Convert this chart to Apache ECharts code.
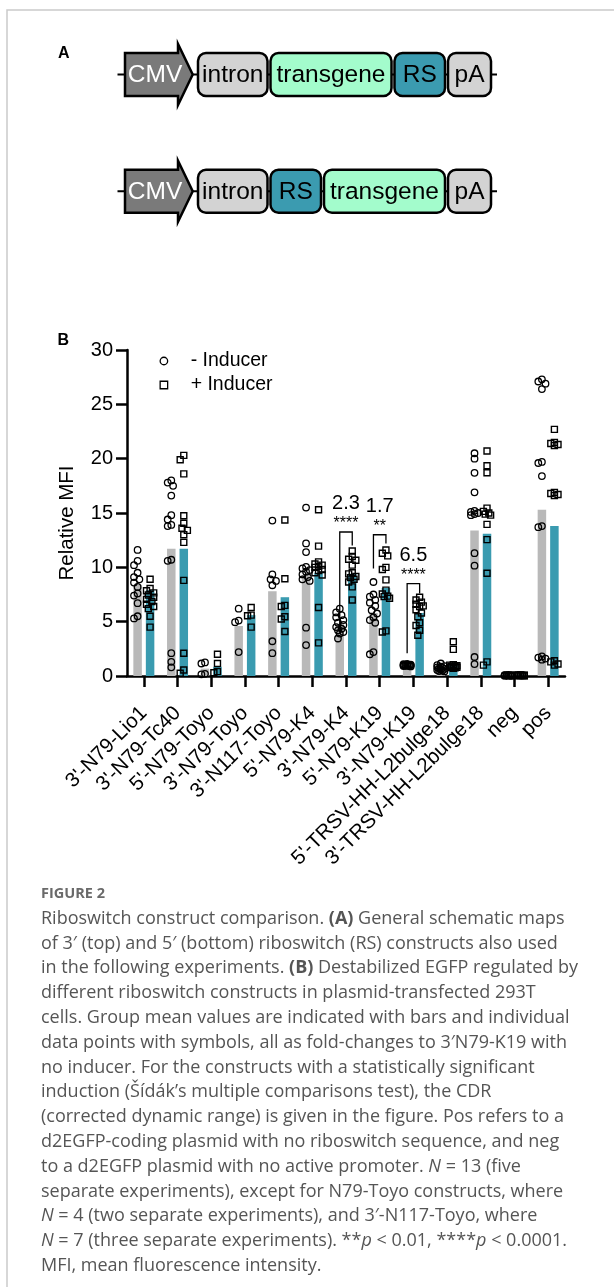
<!DOCTYPE html>
<html>
<head>
<meta charset="utf-8">
<script src="https://cdn.jsdelivr.net/npm/echarts@6/dist/echarts.min.js"></script>
<style>
  html, body { margin: 0; padding: 0; background: #fff; }
  #chart { width: 614px; height: 1287px; }
</style>
</head>
<body>
<div id="chart"></div>
<script>
// ---- data -------------------------------------------------------------
const categories = [
  "3'-N79-Lio1", "3'-N79-Tc40", "5'-N79-Toyo", "3'-N79-Toyo", "3'-N117-Toyo",
  "5'-N79-K4", "3'-N79-K4", "5'-N79-K19", "3'-N79-K19",
  "5'-TRSV-HH-L2bulge18", "3'-TRSV-HH-L2bulge18", "neg", "pos"
];

// group means (bars)
const meanMinus = [8.4, 11.7, 0.68, 4.6, 7.8, 9.3, 4.8, 5.8, 1.0, 0.7, 13.4, 0.05, 15.3];
const meanPlus  = [7.9, 11.7, 0.85, 5.6, 7.25, 9.5, 9.4, 8.1, 5.8, 1.0, 13.1, 0.05, 13.8];

// individual replicates, no inducer
const pointsMinus = [
  [11.6, 10.6, 10.2, 9.5, 9.1, 8.9, 8.6, 8.2, 7.6, 7.4, 6.7, 5.5, 5.3],
  [18.0, 17.8, 17.5, 16.6, 14.8, 14.4, 13.9, 13.8, 10.7, 10.6, 2.1, 1.3, 0.8],
  [1.25, 1.15, 0.2, 0.15],
  [6.2, 5.1, 4.95, 2.2],
  [14.3, 9.35, 8.9, 8.75, 8.35, 3.2, 2.1],
  [15.5, 12.2, 11.4, 10.05, 9.9, 9.75, 9.6, 9.35, 9.1, 8.9, 8.75, 4.45, 2.85],
  [6.2, 5.85, 5.6, 5.4, 5.15, 4.9, 4.7, 4.5, 4.35, 4.2, 4.05, 3.9, 3.45],
  [8.65, 7.5, 7.3, 7.0, 6.75, 6.45, 6.05, 5.75, 5.4, 5.15, 4.9, 2.2, 2.0],
  [1.12, 1.08, 1.05, 1.03, 1.01, 1.0, 0.99, 0.98, 0.97, 0.95, 0.93, 0.92, 0.88],
  [1.15, 1.0, 0.9, 0.85, 0.8, 0.75, 0.7, 0.65, 0.6, 0.55, 0.5, 0.45, 0.42],
  [20.5, 20.0, 18.7, 16.9, 15.2, 15.1, 15.0, 14.9, 14.8, 11.3, 10.15, 1.75, 1.1],
  [0.09, 0.08, 0.07, 0.06, 0.06, 0.05, 0.05, 0.05, 0.04, 0.04, 0.03, 0.03, 0.02],
  [27.3, 27.1, 26.9, 26.4, 19.7, 19.6, 18.4, 13.8, 13.7, 1.8, 1.7, 1.6, 1.5]
];

// individual replicates, with inducer
const pointsPlus = [
  [8.9, 8.05, 7.85, 7.65, 7.45, 7.25, 7.05, 6.85, 6.6, 6.4, 6.2, 5.5, 4.5],
  [20.3, 19.9, 18.6, 14.75, 14.05, 13.6, 13.4, 13.0, 12.3, 8.8, 2.1, 0.55, 0.25],
  [2.0, 1.15, 0.4, 0.3],
  [6.3, 5.6, 5.55, 4.5],
  [14.35, 8.95, 6.5, 6.4, 5.45, 5.25, 4.1],
  [15.3, 11.95, 10.5, 10.3, 10.2, 10.1, 10.0, 9.8, 9.7, 9.5, 9.3, 6.3, 3.05],
  [11.5, 11.0, 10.75, 10.65, 10.2, 9.5, 9.4, 9.15, 9.05, 8.9, 8.65, 8.2, 7.0],
  [11.6, 11.3, 11.05, 10.0, 9.8, 8.85, 7.9, 7.55, 7.35, 7.3, 7.15, 4.15, 4.05],
  [7.25, 7.0, 6.8, 6.6, 6.45, 6.4, 6.1, 5.8, 5.45, 4.9, 4.65, 4.2, 3.75],
  [3.15, 2.45, 1.05, 1.0, 0.95, 0.9, 0.88, 0.85, 0.82, 0.8, 0.78, 0.75, 0.7],
  [20.7, 19.35, 18.7, 15.45, 15.15, 15.0, 14.9, 14.8, 13.95, 12.55, 9.45, 1.3, 1.0],
  [0.1, 0.09, 0.08, 0.07, 0.06, 0.06, 0.05, 0.05, 0.04, 0.04, 0.03, 0.03, 0.02],
  [22.7, 21.5, 21.4, 21.3, 21.2, 16.9, 16.8, 16.7, 16.6, 1.4, 1.3, 1.1, 1.0]
];

// significant inductions: category index, CDR, stars, bracket levels
const cdrCategory = [6, 7, 8];
const cdrText = ['2.3', '1.7', '6.5'];
const cdrStars = ['****', '**', '****'];
const bracketTop = [13.25, 13.0, 8.5];
const bracketLeftEnd = [4.0, 9.9, 2.1];
const bracketRightEnd = [12.0, 12.2, 7.6];

const legendNames = ['- Inducer', '+ Inducer'];
const yAxisTitle = 'Relative MFI';

// construct maps (panel A)
const mapTop = ['CMV', 'intron', 'transgene', 'RS', 'pA'];
const mapBottom = ['CMV', 'intron', 'RS', 'transgene', 'pA'];

const captionHead = 'FIGURE 2';
const captionLines = [
  'Riboswitch construct comparison. {b|(A)} General schematic maps',
  'of 3\u2032 (top) and 5\u2032 (bottom) riboswitch (RS) constructs also used',
  'in the following experiments. {b|(B)} Destabilized EGFP regulated by',
  'different riboswitch constructs in plasmid-transfected 293T',
  'cells. Group mean values are indicated with bars and individual',
  'data points with symbols, all as fold-changes to 3\u2032N79-K19 with',
  'no inducer. For the constructs with a statistically significant',
  'induction (\u0160\u00edd\u00e1k\u2019s multiple comparisons test), the CDR',
  '(corrected dynamic range) is given in the figure. Pos refers to a',
  'd2EGFP-coding plasmid with no riboswitch sequence, and neg',
  'to a d2EGFP plasmid with no active promoter. {i|N} = 13 (five',
  'separate experiments), except for N79-Toyo constructs, where',
  '{i|N} = 4 (two separate experiments), and 3\u2032-N117-Toyo, where',
  '{i|N} = 7 (three separate experiments). **{i|p} < 0.01, ****{i|p} < 0.0001.',
  'MFI, mean fluorescence intensity.'
];

// ---- styling ----------------------------------------------------------
const FONT = '"Liberation Sans", Arial, Helvetica, sans-serif';
const CAP_FONT = '"Open Sans", Lato, sans-serif';
const CAP_SIZE = 18;
const GRAY = '#b9b9b9';
const TEAL = '#3a9bb0';
const BAR_W = 8.5;
const BAR_GAP = 0.47;
const PAIR_OFFSET = BAR_W * (1 + BAR_GAP) / 2;
const AXIS_W = 2.5;

const chart = echarts.init(document.getElementById('chart'), null, { renderer: 'canvas' });

// ---- panel A: construct maps -------------------------------------------
const partWidth = { intron: 69.5, transgene: 121, RS: 50.5, pA: 43 };
const partFill = { intron: '#d3d3d3', transgene: '#a3fccc', RS: '#3b9bb0', pA: '#d3d3d3' };

function buildMap(names, yc) {
  const els = [];
  els.push({ type: 'line', shape: { x1: 117.5, y1: yc, x2: 497, y2: yc },
             style: { stroke: '#000', lineWidth: 2 } });
  // promoter arrow
  els.push({
    type: 'polygon',
    shape: { points: [[125, yc - 21.5], [178, yc - 21.5], [178, yc - 30.5], [192.7, yc],
                      [178, yc + 30.5], [178, yc + 21.5], [125, yc + 21.5]] },
    style: { fill: '#7a7a7a', stroke: '#000', lineWidth: 2.5, lineJoin: 'miter' }
  });
  els.push({ type: 'text', x: 155, y: yc + 1,
             style: { text: names[0], fontFamily: FONT, fontSize: 24.5, fill: '#fff',
                      align: 'center', verticalAlign: 'middle' } });
  let x = 198;
  names.slice(1).forEach(n => {
    const w = partWidth[n];
    els.push({ type: 'rect', shape: { x: x, y: yc - 21.5, width: w, height: 43, r: 8 },
               style: { fill: partFill[n], stroke: '#000', lineWidth: 2.5 } });
    els.push({ type: 'text', x: x + w / 2, y: yc + 1,
               style: { text: n, fontFamily: FONT, fontSize: 24.5, fill: '#000',
                        align: 'center', verticalAlign: 'middle' } });
    x += w + 3;
  });
  return els;
}

const captionRich = {
  b: { fontFamily: CAP_FONT, fontSize: CAP_SIZE, fontWeight: 'bold', fill: '#555' },
  i: { fontFamily: CAP_FONT, fontSize: CAP_SIZE, fontStyle: 'italic', fill: '#555' }
};

const graphics = [
  { type: 'rect', shape: { x: 7, y: 10, width: 800, height: 1500 },
    style: { fill: 'none', stroke: '#cacaca', lineWidth: 1.5 }, z: -1 },
  { type: 'text', x: 58, y: 46, style: { text: 'A', fontFamily: FONT, fontSize: 16,
    fontWeight: 'bold', fill: '#000' } },
  { type: 'text', x: 57.5, y: 333, style: { text: 'B', fontFamily: FONT, fontSize: 16,
    fontWeight: 'bold', fill: '#000' } },
  ...buildMap(mapTop, 74.5),
  ...buildMap(mapBottom, 191.3),
  { type: 'text', x: 41, y: 894, style: { text: captionHead, fontFamily: CAP_FONT,
    fontSize: 14.5, fontWeight: 'bold', fill: '#6a6a6a', verticalAlign: 'middle' } }
];
captionLines.forEach((line, k) => {
  graphics.push({ type: 'text', x: 41, y: 918.6 + k * 24.8,
    style: { text: line, fontFamily: CAP_FONT, fontSize: CAP_SIZE, fill: '#555',
             verticalAlign: 'middle', rich: captionRich } });
});

// ---- panel B ------------------------------------------------------------
function scatterData(groups, sign, offsets) {
  const out = [];
  groups.forEach((vals, c) => {
    vals.forEach((v, k) => {
      const dx = sign * PAIR_OFFSET + (offsets ? offsets[c][k] : 0);
      out.push({ value: [c, v], symbolOffset: [dx, 0] });
    });
  });
  return out;
}

// spread overlapping replicate symbols sideways (beeswarm style)
function swarm(values, pxPerUnit, diam, step, maxSteps) {
  const placed = [];
  const offs = new Array(values.length).fill(0);
  const order = values.map((v, i) => i).sort((a, b) => values[b] - values[a]);
  const cands = [0];
  for (let k = 1; k <= maxSteps; k++) cands.push(-k * step, k * step);
  order.forEach(i => {
    const y = values[i] * pxPerUnit;
    let best = 0, bestScore = -Infinity;
    for (const x of cands) {
      let minD = Infinity;
      for (const p of placed) {
        const d = Math.hypot(p.x - x, p.y - y);
        if (d < minD) minD = d;
      }
      if (minD >= diam) { best = x; break; }
      if (minD > bestScore) { bestScore = minD; best = x; }
    }
    placed.push({ x: best, y: y });
    offs[i] = best;
  });
  return offs;
}

const bracketData = cdrCategory.map((c, k) => [c, bracketTop[k], bracketLeftEnd[k], bracketRightEnd[k]]);

const option = {
  animation: false,
  backgroundColor: '#fff',
  textStyle: { fontFamily: FONT },
  grid: { left: 127, top: 350, width: 438, height: 326, containLabel: false, outerBoundsMode: 'none' },
  legend: {
    orient: 'vertical',
    left: 154.5, top: 346,
    itemWidth: 7.5, itemHeight: 7.5, itemGap: 4,
    selectedMode: false,
    data: [{ name: legendNames[0], icon: 'circle' }, { name: legendNames[1], icon: 'rect' }],
    itemStyle: { color: 'transparent', borderColor: '#000', borderWidth: 1.3 },
    textStyle: { fontFamily: FONT, fontSize: 19.5, color: '#000', padding: [0, 0, 0, 18] }
  },
  xAxis: {
    type: 'category',
    data: categories,
    axisLine: { show: true, lineStyle: { color: '#000', width: AXIS_W } },
    axisTick: { show: true, alignWithLabel: true, length: 11, lineStyle: { color: '#000', width: AXIS_W } },
    axisLabel: { rotate: 45, interval: 0, fontFamily: FONT, fontSize: 20.5, color: '#000', margin: 34 },
    splitLine: { show: false }
  },
  yAxis: {
    type: 'value', min: 0, max: 30, interval: 5,
    name: yAxisTitle, nameLocation: 'middle', nameGap: 49, nameRotate: 90,
    nameTextStyle: { fontFamily: FONT, fontSize: 20.5, color: '#000', padding: [0, 20, 0, 0] },
    axisLine: { show: true, lineStyle: { color: '#000', width: AXIS_W } },
    axisTick: { show: true, length: 11, lineStyle: { color: '#000', width: AXIS_W } },
    axisLabel: { fontFamily: FONT, fontSize: 20, color: '#000', margin: 14 },
    splitLine: { show: false }
  },
  series: [
    { id: 'barMinus', name: 'mean without inducer', type: 'bar', data: meanMinus,
      barWidth: BAR_W, barGap: (BAR_GAP * 100) + '%', itemStyle: { color: GRAY }, silent: true, z: 2 },
    { id: 'barPlus', name: 'mean with inducer', type: 'bar', data: meanPlus,
      barWidth: BAR_W, barGap: (BAR_GAP * 100) + '%', itemStyle: { color: TEAL }, silent: true, z: 2 },
    { id: 'ptsMinus', name: legendNames[0], type: 'scatter', symbol: 'circle', symbolSize: 6.5,
      data: scatterData(pointsMinus, -1, null),
      itemStyle: { color: 'transparent', borderColor: '#000', borderWidth: 1.3, opacity: 1 },
      silent: true, z: 4 },
    { id: 'ptsPlus', name: legendNames[1], type: 'scatter', symbol: 'rect', symbolSize: 6,
      data: scatterData(pointsPlus, 1, null),
      itemStyle: { color: 'transparent', borderColor: '#000', borderWidth: 1.4, opacity: 1 },
      silent: true, z: 4 },
    { id: 'brackets', type: 'custom', data: bracketData, silent: true, z: 5,
      renderItem: function (params, api) {
        const k = params.dataIndex;
        const c = api.value(0);
        const top = api.coord([c, api.value(1)]);
        const lEnd = api.coord([c, api.value(2)]);
        const rEnd = api.coord([c, api.value(3)]);
        const xl = top[0] - PAIR_OFFSET, xr = top[0] + PAIR_OFFSET;
        return { type: 'group', children: [
          { type: 'polyline',
            shape: { points: [[xl, lEnd[1]], [xl, top[1]], [xr, top[1]], [xr, rEnd[1]]] },
            style: { stroke: '#000', lineWidth: 1.3, fill: 'none' } },
          { type: 'text', x: top[0], y: top[1] - 28.5,
            style: { text: cdrText[k], fontFamily: FONT, fontSize: 20, fill: '#000',
                     align: 'center', verticalAlign: 'middle' } },
          { type: 'text', x: top[0], y: top[1] - 8,
            style: { text: cdrStars[k], fontFamily: FONT, fontSize: 16, fill: '#000',
                     align: 'center', verticalAlign: 'middle' } }
        ] };
      } }
  ],
  graphic: { elements: graphics }
};

chart.setOption(option);

// place replicate symbols using the axis scale
const pxPerUnit = chart.convertToPixel({ yAxisIndex: 0 }, 0) - chart.convertToPixel({ yAxisIndex: 0 }, 1);
const offMinus = pointsMinus.map(g => swarm(g, pxPerUnit, 5, 1.8, 2));
const offPlus = pointsPlus.map(g => swarm(g, pxPerUnit, 5, 1.8, 2));
chart.setOption({
  series: [
    { id: 'ptsMinus', data: scatterData(pointsMinus, -1, offMinus) },
    { id: 'ptsPlus', data: scatterData(pointsPlus, 1, offPlus) }
  ]
});
</script>
</body>
</html>
